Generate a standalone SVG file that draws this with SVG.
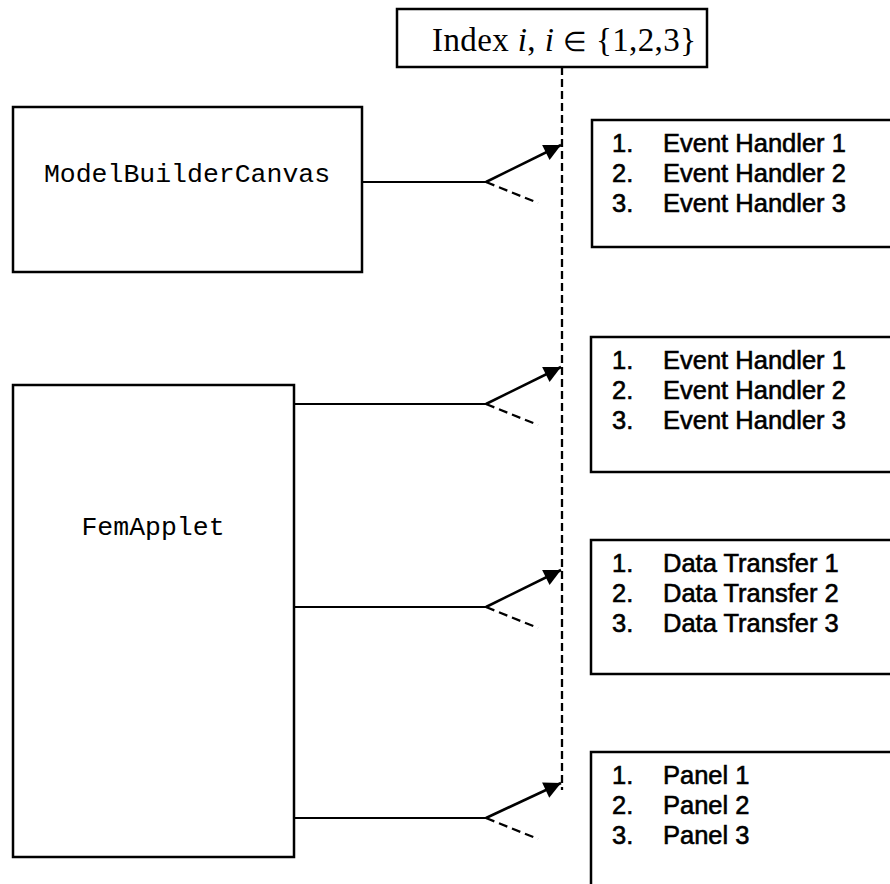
<svg xmlns="http://www.w3.org/2000/svg" width="890" height="884" viewBox="0 0 890 884">
  <style>
    .box { fill: #fff; stroke: #000; stroke-width: 2.5; }
    .cls { font-family: "Liberation Mono", "Courier New", monospace; font-size: 26.5px; fill: #000; }
    .item { font-family: "Liberation Sans", Arial, sans-serif; font-size: 25.5px; fill: #000; stroke: #000; stroke-width: 0.6; }
    .idx { font-family: "Liberation Serif", "Times New Roman", serif; font-size: 33px; fill: #000; }
    .wire { stroke: #000; stroke-width: 2.2; fill: none; }
    .arrow { stroke: #000; stroke-width: 2.6; fill: none; marker-end: url(#head); }
    .alt { stroke: #000; stroke-width: 2.2; fill: none; stroke-dasharray: 9 5; }
    .index-line { stroke: #000; stroke-width: 2.3; fill: none; stroke-dasharray: 8 4; }
  </style>
  <defs>
    <marker id="head" viewBox="0 0 10 10" refX="10" refY="5" markerWidth="7.5" markerHeight="6.5" markerUnits="strokeWidth" orient="auto">
      <path d="M0,0 L10,5 L0,10 Z" fill="#000"/>
    </marker>
  </defs>
  <rect width="890" height="884" fill="#fff"/>

  <!-- connectors -->
  <g id="connectors">
    <line class="index-line" x1="562" y1="67" x2="562" y2="790"/>
    <!-- ModelBuilderCanvas -->
    <line class="wire" x1="362" y1="182" x2="486" y2="182"/>
    <line class="arrow" x1="486" y1="182" x2="561" y2="145"/>
    <line class="alt" x1="486" y1="182" x2="538" y2="203"/>
    <!-- FemApplet: event handlers -->
    <line class="wire" x1="294" y1="404" x2="486" y2="404"/>
    <line class="arrow" x1="486" y1="404" x2="561" y2="367"/>
    <line class="alt" x1="486" y1="404" x2="538" y2="425"/>
    <!-- FemApplet: data transfer -->
    <line class="wire" x1="294" y1="607" x2="486" y2="607"/>
    <line class="arrow" x1="486" y1="607" x2="561" y2="570"/>
    <line class="alt" x1="486" y1="607" x2="538" y2="628"/>
    <!-- FemApplet: panels -->
    <line class="wire" x1="294" y1="818" x2="486" y2="818"/>
    <line class="arrow" x1="486" y1="818" x2="561" y2="783"/>
    <line class="alt" x1="486" y1="818" x2="538" y2="839"/>
  </g>

  <g id="index">
    <rect class="box" x="397" y="9" width="310" height="58"/>
    <text class="idx" x="432" y="51" textLength="264" lengthAdjust="spacing">Index <tspan font-style="italic">i</tspan>, <tspan font-style="italic">i</tspan> <tspan font-size="27px">∈</tspan> {1,2,3}</text>
  </g>

  <g id="model-builder-canvas">
    <rect class="box" x="13" y="107" width="349" height="165"/>
    <text class="cls" x="187" y="182" text-anchor="middle">ModelBuilderCanvas</text>
  </g>

  <g id="fem-applet">
    <rect class="box" x="13" y="385" width="281" height="472"/>
    <text class="cls" x="153" y="535" text-anchor="middle">FemApplet</text>
  </g>

  <g id="event-handlers-a">
    <rect class="box" x="592" y="120" width="310" height="127"/>
    <text class="item" x="612" y="152">1.</text><text class="item" x="663" y="152">Event Handler 1</text>
    <text class="item" x="612" y="182">2.</text><text class="item" x="663" y="182">Event Handler 2</text>
    <text class="item" x="612" y="212">3.</text><text class="item" x="663" y="212">Event Handler 3</text>
  </g>

  <g id="event-handlers-b">
    <rect class="box" x="591" y="337" width="310" height="135"/>
    <text class="item" x="612" y="369">1.</text><text class="item" x="663" y="369">Event Handler 1</text>
    <text class="item" x="612" y="399">2.</text><text class="item" x="663" y="399">Event Handler 2</text>
    <text class="item" x="612" y="429">3.</text><text class="item" x="663" y="429">Event Handler 3</text>
  </g>

  <g id="data-transfers">
    <rect class="box" x="591" y="540" width="310" height="134"/>
    <text class="item" x="612" y="572">1.</text><text class="item" x="663" y="572">Data Transfer 1</text>
    <text class="item" x="612" y="602">2.</text><text class="item" x="663" y="602">Data Transfer 2</text>
    <text class="item" x="612" y="632">3.</text><text class="item" x="663" y="632">Data Transfer 3</text>
  </g>

  <g id="panels">
    <rect class="box" x="591" y="752" width="310" height="150"/>
    <text class="item" x="612" y="784">1.</text><text class="item" x="663" y="784">Panel 1</text>
    <text class="item" x="612" y="814">2.</text><text class="item" x="663" y="814">Panel 2</text>
    <text class="item" x="612" y="844">3.</text><text class="item" x="663" y="844">Panel 3</text>
  </g>
</svg>
